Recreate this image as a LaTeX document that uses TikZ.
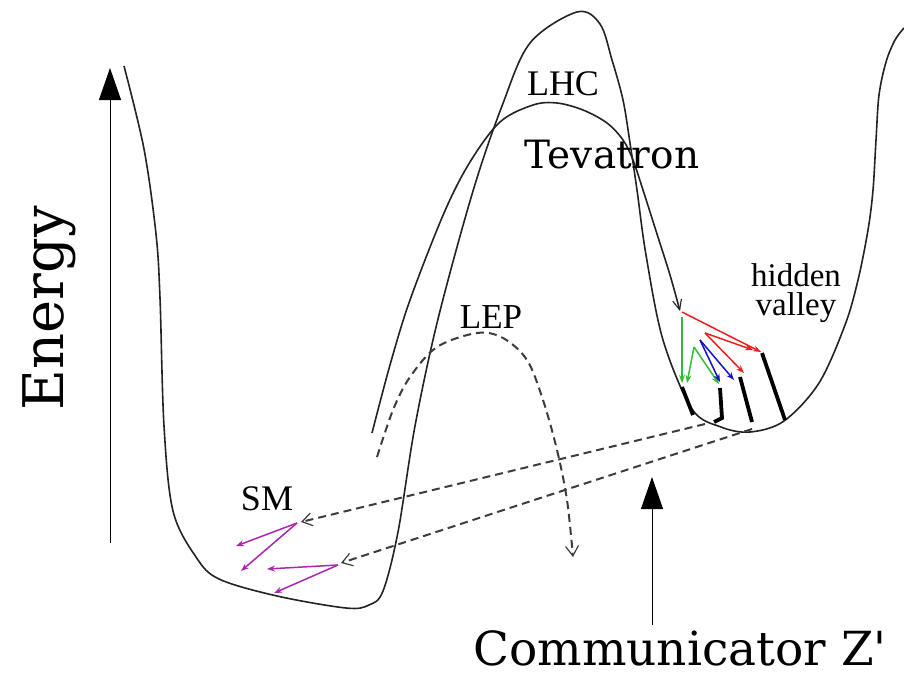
\documentclass[tikz,border=0pt]{standalone}
\usepackage{fontspec}
\setmainfont{Liberation Serif}
\newfontfamily\dvserif{DejaVu Serif}
\usetikzlibrary{arrows.meta}
\definecolor{curve}{RGB}{35,35,35}
\definecolor{dashgrey}{RGB}{60,60,60}
\definecolor{hvred}{RGB}{240,30,30}
\definecolor{hvgreen}{RGB}{50,190,50}
\definecolor{hvblue}{RGB}{20,20,200}
\definecolor{smpurple}{RGB}{170,40,175}
\tikzset{
  wall/.style={draw=curve, line width=1.6pt, smooth, tension=0.55},
  zline/.style={draw=dashgrey, line width=2pt, dash pattern=on 8pt off 5pt,
    -{Straight Barb[length=10pt,width=13pt,line width=1.2pt]}},
  axis/.style={draw=black, line width=1pt, -{Triangle[length=32pt,width=22pt]}},
  jet/.style={line width=1.5pt, -{Stealth[length=8pt,width=6pt]}},
  bar/.style={line width=3.8pt, line cap=butt},
  lbl/.style={inner sep=0pt, anchor=base},
}
\begin{document}
\begin{tikzpicture}[x=1pt,y=-1pt]
\useasboundingbox (0,0) rectangle (904,672);

% potential landscape: SM well, barrier, hidden valley
\draw[wall] plot coordinates {
  (124,66) (144,149) (156,234) (160,298) (164,426) (173,511) (196,557)
  (219,579) (277,596) (346,608) (369,605) (383,591) (398,532) (415,426)
  (438,319) (473,191) (502,106) (530,43) (577,12) (600,24) (612,60)
  (623,100) (630,143) (637,190) (646,255) (663,340) (692,409) (721,427)
  (750,432) (784,421) (819,383) (845,325) (858,280) (868,230) (873,190)
  (876,140) (879,95) (886,62) (895,40) (904,28)};

% Tevatron trajectory falling into the valley
\coordinate (tevS) at (372,433);
\coordinate (tevE) at (680,311);
\draw[wall, -{Straight Barb[length=10pt,width=9pt,line width=1.1pt]}] plot coordinates {
  (tevS) (390,365) (410,300) (444,213) (470,162) (500,122) (533,105)
  (557,103) (583,110) (607,123) (623,140) (633,160) (643,190) (657,234)
  (670,275) (tevE)};

% LEP trajectory
\draw[zline, smooth, tension=0.55] plot coordinates {
  (377,457) (393,410) (410,377) (437,347) (477,333) (503,338) (527,360)
  (543,400) (557,450) (567,500) (573,557)};

% communicator Z' decays back to SM
\coordinate (zA) at (705,424);
\coordinate (zB) at (752,429);
\coordinate (smA) at (301,522);
\coordinate (smB) at (341,563);
\draw[zline] (zA) -- (smA);
\draw[zline] (zB) -- (smB);

% axes
\coordinate (eLo) at (110,543);
\coordinate (eHi) at (110,68);
\draw[axis] (eLo) -- (eHi);
\coordinate (cLo) at (652,625);
\coordinate (cHi) at (652,477);
\draw[axis] (cLo) -- (cHi);

% hidden-valley showers
\coordinate (hv0) at (682,312);
\coordinate (hvg) at (682,317);
\coordinate (g1) at (694,347);
\coordinate (b1) at (700,340);
\coordinate (r1) at (705,333);
\coordinate (t1) at (682,387);
\coordinate (t2) at (720,388);
\coordinate (t3) at (740,377);
\coordinate (t4) at (762,353);

\draw[bar] (t1) -- (693,415);
\draw[bar] (t2) -- (722,418) -- (714,422);
\draw[bar] (t3) -- (752,422);
\draw[bar] (t4) -- (785,420);

\draw[jet, hvgreen] (hvg) -- (682,383);
\draw[jet, hvgreen] (g1) -- (687,383);
\draw[jet, hvgreen] (g1) -- (719,384);
\draw[jet, hvblue] (b1) -- (720,382);
\draw[jet, hvblue] (b1) -- (734,380);
\draw[jet, hvred] (hv0) -- (761,352);
\draw[jet, hvred] (r1) -- (753,350);
\draw[jet, hvred] (r1) -- (744,373);

% SM showers
\coordinate (p1) at (297,523);
\coordinate (p2) at (338,565);
\draw[jet, smpurple] (p1) -- (236,546);
\draw[jet, smpurple] (p1) -- (241,571);
\draw[jet, smpurple] (p2) -- (267,569);
\draw[jet, smpurple] (p2) -- (274,593);

% labels
\node[lbl, rotate=90] (energy) at (63,308) {\dvserif\fontsize{56}{60}\selectfont Energy};
\node[lbl] (comm) at (680,665) {\dvserif\fontsize{47}{50}\selectfont Communicator Z'};
\node[lbl] (tev) at (612,168) {\dvserif\fontsize{39}{42}\selectfont Tevatron};
\node[lbl] (lhc) at (563,95) {\fontsize{36}{40}\selectfont LHC};
\node[lbl] (lep) at (491,328) {\fontsize{35}{40}\selectfont LEP};
\node[lbl] (sm) at (267,510) {\fontsize{36}{40}\selectfont SM};
\node[inner sep=0pt, anchor=base, align=center, font=\fontsize{33}{29}\selectfont]
  (hv) at (796,315) {hidden\\valley};
\end{tikzpicture}
\end{document}
